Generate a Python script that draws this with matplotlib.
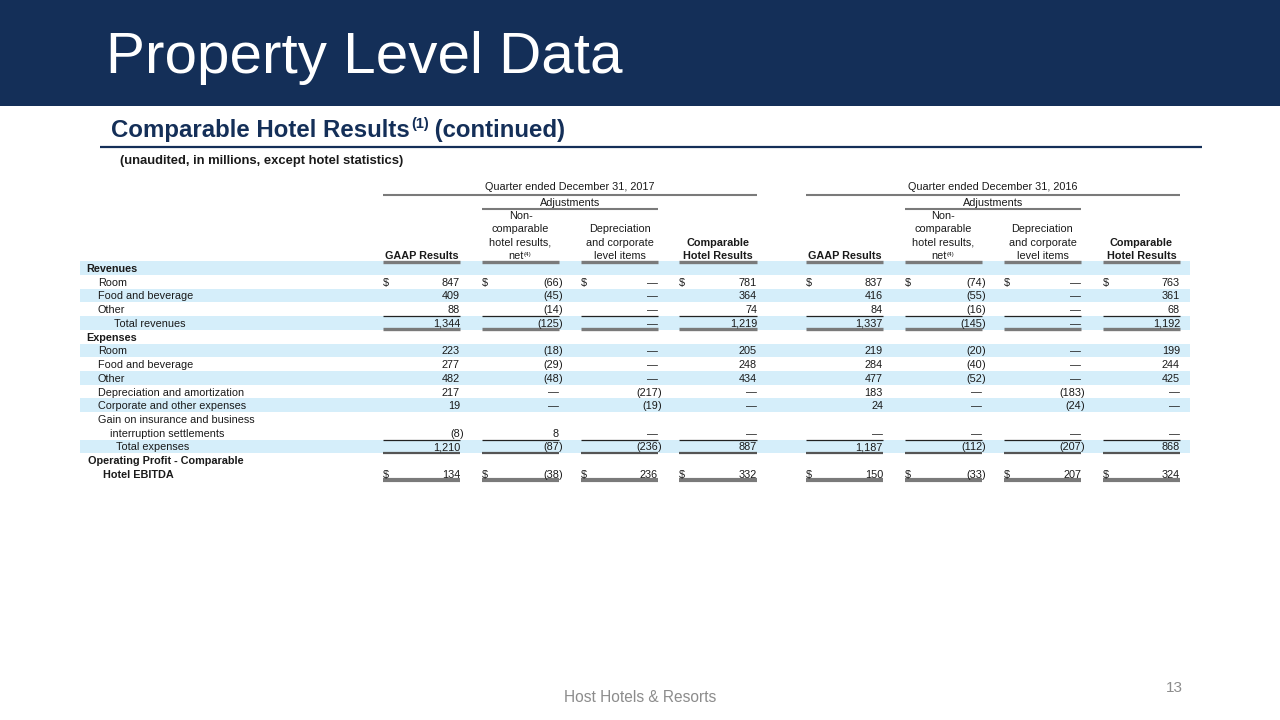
import matplotlib
matplotlib.use("Agg")
import matplotlib.pyplot as plt

plt.rcParams['font.family'] = ['Liberation Sans', 'DejaVu Sans']

NAVY = '#142f58'
SHADE = '#d5eefa'

title = "Property Level Data"
subtitle = "Comparable Hotel Results"
subtitle_note = "(1)"
subtitle_tail = " (continued)"
units_note = "(unaudited, in millions, except hotel statistics)"
periods = ["Quarter ended December 31, 2017", "Quarter ended December 31, 2016"]
col_heads = [["GAAP Results"],
             ["Non-", "comparable", "hotel results,", "net"],
             ["Depreciation", "and corporate", "level items"],
             ["Comparable", "Hotel Results"]]

# label, indent level, bold, shaded, values (None = dash)
row_labels = ["Revenues", "Room", "Food and beverage", "Other", "Total revenues",
              "Expenses", "Room", "Food and beverage", "Other",
              "Depreciation and amortization", "Corporate and other expenses",
              "Gain on insurance and business", "interruption settlements",
              "Total expenses", "Operating Profit - Comparable", "Hotel EBITDA"]
row_indent = [86, 98, 98, 98, 114, 86, 98, 98, 98, 98, 98, 98, 110, 116, 88, 103]
row_bold = [1, 0, 0, 0, 0, 1, 0, 0, 0, 0, 0, 0, 0, 0, 1, 1]
row_shaded = [1, 0, 1, 0, 1, 0, 1, 0, 1, 0, 1, 0, 0, 1, 0, 0]

row_values = {
    1:  [847, -66, None, 781, 837, -74, None, 763],
    2:  [409, -45, None, 364, 416, -55, None, 361],
    3:  [88, -14, None, 74, 84, -16, None, 68],
    4:  [1344, -125, None, 1219, 1337, -145, None, 1192],
    6:  [223, -18, None, 205, 219, -20, None, 199],
    7:  [277, -29, None, 248, 284, -40, None, 244],
    8:  [482, -48, None, 434, 477, -52, None, 425],
    9:  [217, None, -217, None, 183, None, -183, None],
    10: [19, None, -19, None, 24, None, -24, None],
    12: [-8, 8, None, None, None, None, None, None],
    13: [1210, -87, -236, 887, 1187, -112, -207, 868],
    15: [134, -38, 236, 332, 150, -33, 207, 324],
}
dollar_rows = [1, 15]

# column pixel spans (left, right)
cols = [(383, 460), (482, 559), (581, 658), (679, 757),
        (806, 883), (905, 982), (1004, 1081), (1103, 1180)]

fig = plt.figure(figsize=(12.8, 7.2), dpi=100)
ax = fig.add_axes([0, 0, 1, 1])
ax.set_xlim(0, 1280)
ax.set_ylim(720, 0)
ax.axis('off')

# header band
ax.add_patch(plt.Rectangle((0, 0), 1280, 106, color=NAVY, lw=0))
ax.text(106, 73, title, color='white', fontsize=42, va='baseline', ha='left')

renderer = fig.canvas.get_renderer()


def text_width(t):
    bb = t.get_window_extent(renderer=renderer)
    return bb.width


# subtitle with superscript
t1 = ax.text(111, 137, subtitle, color=NAVY, fontsize=17.3, fontweight='bold', va='baseline')
x = 111 + text_width(t1)
t2 = ax.text(x + 1, 128, subtitle_note, color=NAVY, fontsize=10.5, fontweight='bold', va='baseline')
x = x + 1 + text_width(t2)
ax.text(x, 137, subtitle_tail, color=NAVY, fontsize=17.3, fontweight='bold', va='baseline')
ax.plot([100, 1202], [146.5, 146.5], color=NAVY, lw=1.6, solid_capstyle='butt')
ax.text(120, 164, units_note, color='#1a1a1a', fontsize=9.4, fontweight='bold', va='baseline')

FS = 7.8
GRAY = '#7a7a7a'


def hline(x0, x1, y, lw, color):
    ax.plot([x0, x1], [y, y], color=color, lw=lw, solid_capstyle='butt')


# period headers
for p, block in enumerate([cols[0:4], cols[4:8]]):
    cx = (block[0][0] + block[3][1]) / 2
    ax.text(cx, 190, periods[p], fontsize=FS, ha='center', va='baseline', color='#1a1a1a')
    hline(block[0][0], block[3][1], 194.5, 1.5, GRAY)
    ax2 = (block[1][0] + block[2][1]) / 2
    ax.text(ax2, 206, "Adjustments", fontsize=FS, ha='center', va='baseline', color='#1a1a1a')
    hline(block[1][0], block[2][1], 208.5, 1.5, GRAY)
    for k, (l, r) in enumerate(block):
        cxk = (l + r) / 2
        lines = col_heads[k]
        bold = k in (0, 3)
        n = len(lines)
        for j, line in enumerate(lines):
            yb = 259 - (n - 1 - j) * 13.4
            if k == 1 and j == n - 1:
                tn = ax.text(cxk - 5, yb, line, fontsize=FS, ha='center', va='baseline', color='#1a1a1a')
                w = text_width(tn)
                ax.text(cxk - 5 + w / 2 + 0.5, yb - 3, "(4)", fontsize=4.5, ha='left',
                        va='baseline', color='#1a1a1a')
            else:
                ax.text(cxk, yb, line, fontsize=FS, ha='center', va='baseline', color='#1a1a1a',
                        fontweight='bold' if bold else 'normal')
        hline(l, r, 261.5, 2.4, GRAY)

# rows
ROW0 = 268.0
RH = 13.73
for i, lab in enumerate(row_labels):
    yc = ROW0 + i * RH
    if row_shaded[i]:
        ax.add_patch(plt.Rectangle((80, yc - RH / 2), 1110, RH, color=SHADE, lw=0, zorder=0))
    ax.text(row_indent[i], yc + 4, lab, fontsize=FS, va='baseline', ha='left', color='#1a1a1a',
            fontweight='bold' if row_bold[i] else 'normal')
    if i in row_values:
        for c, v in enumerate(row_values[i]):
            l, r = cols[c]
            if i in dollar_rows:
                ax.text(l, yc + 4, "$", fontsize=FS, va='baseline', ha='left', color='#1a1a1a')
            if v is None:
                ax.text(r, yc + 4, "\u2014", fontsize=FS, va='baseline', ha='right', color='#1a1a1a')
            elif v < 0:
                ax.text(r, yc + 4, "({:,}".format(-v), fontsize=FS, va='baseline', ha='right',
                        color='#1a1a1a')
                ax.text(r, yc + 4, ")", fontsize=FS, va='baseline', ha='left', color='#1a1a1a')
            else:
                ax.text(r, yc + 4, "{:,}".format(v), fontsize=FS, va='baseline', ha='right',
                        color='#1a1a1a')

# total rules
for l, r in cols:
    hline(l, r, ROW0 + 4 * RH - 6.8, 0.9, '#222222')
    hline(l, r, ROW0 + 4 * RH + 6.3, 2.4, GRAY)
    hline(l, r, ROW0 + 13 * RH - 6.8, 0.9, '#222222')
    hline(l, r, ROW0 + 13 * RH + 6.3, 1.6, '#555555')
    hline(l, r, ROW0 + 15 * RH + 6.0, 3.0, GRAY)

# footer
ax.text(640, 702, "Host Hotels & Resorts", fontsize=11.2, color='#8c8c8c', ha='center', va='baseline')
ax.text(1183, 692, "13", fontsize=11, color='#8c8c8c', ha='right', va='baseline')

fig.savefig("out.png", dpi=100)
